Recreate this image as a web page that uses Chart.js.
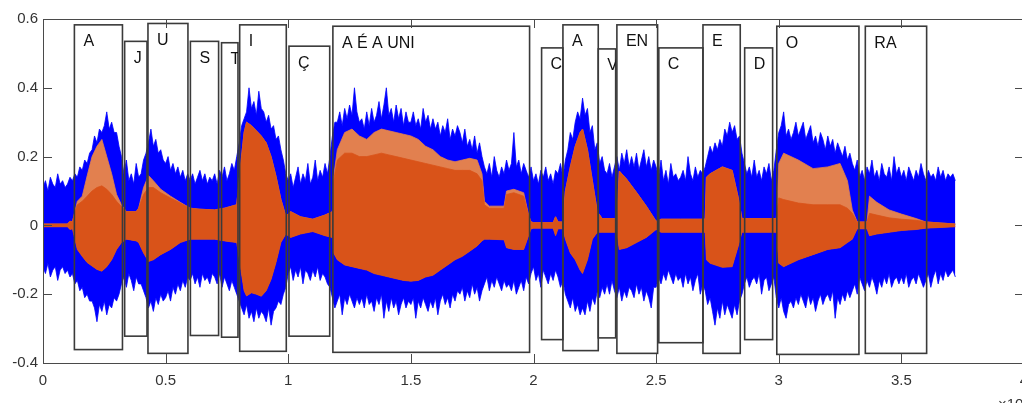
<!DOCTYPE html>
<html>
<head>
<meta charset="utf-8">
<script src="https://cdn.jsdelivr.net/npm/chart.js@4.4.0/dist/chart.umd.min.js"></script>
<style>
  html, body { margin: 0; padding: 0; background: #fff; overflow: hidden; width: 1022px; height: 403px; }
  #wrap { width: 1026px; height: 403px; }
</style>
</head>
<body>
<div id="wrap"><canvas id="c" width="1026" height="403"></canvas></div>
<script>
// Noisy recording: per-column upper / lower envelope, one column every 0.01 (x10^4 samples)
const blueStep = 0.01;
const blueHi = [
  0.11,0.13,0.10,0.14,0.12,0.11,0.15,0.12,0.13,0.11,
  0.12,0.14,0.13,0.15,0.14,0.17,0.16,0.19,0.18,0.21,
  0.22,0.26,0.24,0.28,0.27,0.29,0.33,0.28,0.30,0.27,
  0.27,0.23,0.20,0.15,0.19,0.13,0.15,0.12,0.18,0.14,
  0.15,0.19,0.21,0.24,0.28,0.23,0.25,0.21,0.22,0.19,
  0.18,0.20,0.16,0.18,0.15,0.17,0.14,0.16,0.13,0.15,
  0.13,0.15,0.12,0.14,0.16,0.13,0.15,0.12,0.14,0.13,
  0.15,0.12,0.16,0.14,0.17,0.13,0.15,0.18,0.16,0.20,
  0.24,0.29,0.31,0.33,0.40,0.34,0.36,0.32,0.39,0.34,
  0.33,0.30,0.32,0.28,0.29,0.25,0.26,0.22,0.19,0.15,
  0.13,0.15,0.11,0.14,0.17,0.12,0.15,0.13,0.18,0.12,
  0.14,0.19,0.13,0.16,0.14,0.18,0.15,0.20,0.26,0.30,
  0.30,0.33,0.29,0.34,0.31,0.35,0.32,0.40,0.33,0.30,
  0.31,0.28,0.33,0.29,0.34,0.30,0.32,0.36,0.31,0.35,
  0.40,0.32,0.34,0.30,0.35,0.31,0.34,0.29,0.33,0.30,
  0.30,0.33,0.29,0.31,0.28,0.34,0.30,0.32,0.28,0.31,
  0.28,0.30,0.26,0.29,0.27,0.31,0.25,0.28,0.26,0.29,
  0.27,0.24,0.28,0.23,0.25,0.22,0.26,0.21,0.24,0.20,
  0.17,0.15,0.18,0.14,0.20,0.16,0.14,0.17,0.15,0.19,
  0.16,0.18,0.27,0.17,0.19,0.15,0.18,0.16,0.14,0.17,
  0.13,0.15,0.12,0.16,0.14,0.17,0.13,0.15,0.12,0.16,
  0.15,0.18,0.14,0.19,0.22,0.27,0.25,0.30,0.33,0.31,
  0.37,0.32,0.34,0.27,0.29,0.22,0.24,0.18,0.20,0.16,
  0.15,0.18,0.14,0.17,0.20,0.16,0.21,0.18,0.22,0.17,
  0.20,0.17,0.21,0.16,0.19,0.22,0.17,0.20,0.16,0.19,
  0.17,0.14,0.19,0.13,0.16,0.12,0.18,0.14,0.15,0.13,
  0.14,0.16,0.13,0.20,0.15,0.13,0.17,0.14,0.16,0.15,
  0.17,0.20,0.23,0.21,0.24,0.22,0.25,0.23,0.28,0.26,
  0.30,0.27,0.29,0.25,0.26,0.21,0.18,0.15,0.17,0.14,
  0.19,0.14,0.16,0.13,0.17,0.15,0.18,0.13,0.16,0.22,
  0.27,0.29,0.33,0.26,0.28,0.25,0.27,0.30,0.26,0.28,
  0.30,0.25,0.27,0.29,0.24,0.26,0.23,0.27,0.25,0.22,
  0.26,0.23,0.25,0.21,0.24,0.22,0.20,0.23,0.19,0.21,
  0.18,0.16,0.19,0.14,0.16,0.13,0.17,0.15,0.19,0.14,
  0.16,0.13,0.18,0.15,0.14,0.17,0.13,0.20,0.15,0.17,
  0.14,0.16,0.13,0.17,0.15,0.13,0.16,0.14,0.18,0.15,
  0.13,0.16,0.14,0.15,0.13,0.17,0.14,0.16,0.13,0.15,
  0.14,0.15,0.13
];
const blueLo = [
  -0.12,-0.14,-0.11,-0.15,-0.13,-0.12,-0.16,-0.13,-0.12,-0.14,
  -0.13,-0.15,-0.14,-0.17,-0.16,-0.19,-0.18,-0.21,-0.20,-0.22,
  -0.22,-0.24,-0.28,-0.23,-0.25,-0.22,-0.26,-0.23,-0.24,-0.21,
  -0.22,-0.20,-0.17,-0.15,-0.18,-0.14,-0.16,-0.19,-0.15,-0.17,
  -0.17,-0.19,-0.21,-0.24,-0.22,-0.25,-0.21,-0.23,-0.20,-0.22,
  -0.21,-0.19,-0.22,-0.18,-0.20,-0.17,-0.19,-0.16,-0.18,-0.15,
  -0.16,-0.14,-0.17,-0.15,-0.18,-0.14,-0.16,-0.15,-0.17,-0.14,
  -0.15,-0.17,-0.14,-0.18,-0.15,-0.17,-0.19,-0.16,-0.18,-0.20,
  -0.22,-0.24,-0.26,-0.23,-0.27,-0.25,-0.28,-0.24,-0.27,-0.25,
  -0.26,-0.28,-0.24,-0.29,-0.25,-0.24,-0.22,-0.23,-0.20,-0.18,
  -0.14,-0.12,-0.16,-0.13,-0.15,-0.12,-0.17,-0.13,-0.14,-0.16,
  -0.13,-0.15,-0.12,-0.16,-0.14,-0.15,-0.17,-0.18,-0.21,-0.24,
  -0.22,-0.20,-0.26,-0.21,-0.23,-0.20,-0.22,-0.24,-0.21,-0.23,
  -0.21,-0.24,-0.20,-0.23,-0.22,-0.25,-0.21,-0.23,-0.20,-0.27,
  -0.22,-0.25,-0.21,-0.24,-0.22,-0.26,-0.23,-0.21,-0.24,-0.22,
  -0.23,-0.21,-0.27,-0.22,-0.24,-0.21,-0.23,-0.25,-0.22,-0.24,
  -0.21,-0.26,-0.22,-0.20,-0.23,-0.21,-0.24,-0.20,-0.22,-0.19,
  -0.20,-0.18,-0.22,-0.19,-0.21,-0.17,-0.20,-0.18,-0.22,-0.19,
  -0.17,-0.15,-0.19,-0.16,-0.18,-0.15,-0.17,-0.19,-0.16,-0.18,
  -0.17,-0.19,-0.16,-0.20,-0.18,-0.16,-0.19,-0.15,-0.17,-0.14,
  -0.12,-0.16,-0.14,-0.18,-0.13,-0.15,-0.17,-0.14,-0.16,-0.13,
  -0.15,-0.18,-0.16,-0.20,-0.22,-0.24,-0.21,-0.25,-0.23,-0.26,
  -0.24,-0.26,-0.22,-0.25,-0.21,-0.23,-0.19,-0.21,-0.18,-0.20,
  -0.17,-0.20,-0.16,-0.19,-0.21,-0.18,-0.22,-0.19,-0.21,-0.18,
  -0.19,-0.21,-0.17,-0.20,-0.18,-0.22,-0.19,-0.21,-0.24,-0.18,
  -0.18,-0.15,-0.17,-0.14,-0.16,-0.13,-0.15,-0.17,-0.14,-0.16,
  -0.15,-0.18,-0.14,-0.17,-0.15,-0.19,-0.16,-0.14,-0.20,-0.17,
  -0.19,-0.23,-0.21,-0.25,-0.29,-0.24,-0.27,-0.22,-0.26,-0.23,
  -0.25,-0.27,-0.23,-0.26,-0.22,-0.20,-0.17,-0.15,-0.18,-0.16,
  -0.15,-0.17,-0.14,-0.20,-0.16,-0.15,-0.19,-0.17,-0.15,-0.21,
  -0.24,-0.21,-0.25,-0.27,-0.23,-0.22,-0.24,-0.21,-0.23,-0.20,
  -0.22,-0.24,-0.20,-0.23,-0.21,-0.25,-0.22,-0.20,-0.23,-0.21,
  -0.20,-0.22,-0.19,-0.27,-0.21,-0.23,-0.20,-0.22,-0.19,-0.21,
  -0.19,-0.17,-0.20,-0.15,-0.17,-0.19,-0.16,-0.18,-0.15,-0.17,
  -0.20,-0.16,-0.18,-0.15,-0.17,-0.14,-0.18,-0.16,-0.15,-0.17,
  -0.15,-0.17,-0.14,-0.18,-0.16,-0.15,-0.17,-0.14,-0.16,-0.18,
  -0.16,-0.14,-0.18,-0.15,-0.13,-0.17,-0.14,-0.16,-0.13,-0.15,
  -0.14,-0.13,-0.15
];

// Clean speech: envelope breakpoints (x10^4 samples)
const orangeX = [
  0.00,0.10,0.11,0.12,0.13,0.14,0.16,0.18,0.20,0.22,0.24,0.26,0.28,0.30,0.32,0.34,0.38,0.39,0.41,0.43,
  0.45,0.48,0.52,0.56,0.60,0.64,0.70,0.74,0.79,0.805,0.82,0.83,0.85,0.87,0.89,0.91,0.93,0.95,0.97,0.99,
  1.01,1.05,1.10,1.15,1.18,1.185,1.20,1.23,1.26,1.29,1.32,1.35,1.38,1.41,1.44,1.47,1.50,1.53,1.56,1.59,
  1.62,1.65,1.68,1.71,1.74,1.77,1.79,1.80,1.82,1.88,1.89,1.92,1.96,1.98,1.99,2.00,2.08,2.09,2.10,2.12,
  2.13,2.15,2.17,2.19,2.20,2.22,2.24,2.26,2.28,2.34,2.35,2.38,2.42,2.46,2.50,2.52,2.60,2.70,2.705,2.72,
  2.77,2.81,2.835,2.85,2.99,3.00,3.02,3.08,3.14,3.20,3.25,3.28,3.30,3.32,3.36,3.37,3.40,3.45,3.50,3.56,
  3.60,3.72
];
// outer (peak) envelope, upper side
const orangeHi = [
  0.004,0.004,0.012,0.010,0.040,0.070,0.085,0.144,0.200,0.230,0.250,0.200,0.150,0.090,0.060,0.040,0.040,0.050,0.110,0.145,
  0.130,0.105,0.085,0.067,0.050,0.047,0.045,0.050,0.060,0.170,0.270,0.300,0.290,0.275,0.260,0.240,0.200,0.143,0.076,0.027,
  0.040,0.025,0.018,0.030,0.040,0.140,0.220,0.270,0.280,0.260,0.250,0.270,0.280,0.275,0.270,0.265,0.260,0.250,0.230,0.220,
  0.200,0.190,0.185,0.190,0.195,0.190,0.150,0.070,0.056,0.056,0.100,0.105,0.095,0.030,0.010,0.008,0.008,0.025,0.010,0.010,
  0.100,0.170,0.230,0.270,0.280,0.220,0.130,0.040,0.020,0.020,0.158,0.134,0.096,0.056,0.012,0.018,0.018,0.018,0.140,0.150,
  0.170,0.160,0.080,0.020,0.020,0.180,0.210,0.190,0.165,0.170,0.180,0.130,0.045,0.010,0.010,0.085,0.067,0.045,0.033,0.020,
  0.010,0.004
];
// dense (body) envelope, upper side
const orangeCoreHi = [
  0.004,0.004,0.012,0.010,0.040,0.060,0.070,0.085,0.100,0.110,0.115,0.105,0.090,0.070,0.055,0.040,0.040,0.050,0.090,0.110,
  0.110,0.095,0.080,0.065,0.050,0.047,0.045,0.050,0.060,0.170,0.270,0.300,0.290,0.275,0.260,0.240,0.200,0.143,0.076,0.027,
  0.040,0.025,0.018,0.030,0.040,0.130,0.190,0.210,0.210,0.200,0.200,0.205,0.210,0.205,0.200,0.195,0.190,0.185,0.180,0.175,
  0.170,0.165,0.160,0.160,0.160,0.150,0.130,0.060,0.050,0.050,0.090,0.095,0.085,0.030,0.010,0.008,0.008,0.025,0.010,0.010,
  0.100,0.170,0.230,0.270,0.280,0.220,0.130,0.040,0.020,0.020,0.158,0.134,0.096,0.056,0.012,0.018,0.018,0.018,0.140,0.150,
  0.170,0.160,0.080,0.020,0.020,0.080,0.075,0.065,0.060,0.060,0.060,0.050,0.035,0.010,0.010,0.035,0.030,0.022,0.018,0.015,
  0.010,0.004
];
const orangeLo = [
  -0.004,-0.004,-0.012,-0.010,-0.040,-0.070,-0.090,-0.108,-0.118,-0.128,-0.133,-0.120,-0.100,-0.070,-0.050,-0.040,-0.045,-0.050,-0.080,-0.105,
  -0.100,-0.085,-0.070,-0.050,-0.040,-0.040,-0.040,-0.045,-0.050,-0.120,-0.190,-0.205,-0.196,-0.200,-0.206,-0.190,-0.157,-0.108,-0.050,-0.025,
  -0.035,-0.025,-0.018,-0.030,-0.035,-0.080,-0.100,-0.115,-0.120,-0.125,-0.130,-0.140,-0.145,-0.150,-0.155,-0.160,-0.162,-0.160,-0.150,-0.145,
  -0.130,-0.115,-0.100,-0.090,-0.075,-0.060,-0.045,-0.040,-0.040,-0.042,-0.065,-0.070,-0.070,-0.030,-0.010,-0.008,-0.008,-0.030,-0.010,-0.010,
  -0.040,-0.080,-0.100,-0.130,-0.140,-0.100,-0.040,-0.020,-0.020,-0.020,-0.070,-0.065,-0.050,-0.035,-0.012,-0.020,-0.020,-0.020,-0.100,-0.110,
  -0.122,-0.120,-0.060,-0.020,-0.020,-0.110,-0.120,-0.100,-0.085,-0.070,-0.065,-0.050,-0.040,-0.010,-0.010,-0.030,-0.025,-0.020,-0.015,-0.012,
  -0.008,-0.004
];

// Segment boxes and their transcriptions
const segText   = ['A','J','U','S','T','I','Ç','A É A UNI','C','A','V','EN','C','E','D','O','RA'];
const segLeft   = [0.128,0.333,0.428,0.601,0.728,0.802,1.003,1.182,2.033,2.120,2.264,2.340,2.511,2.691,2.861,2.992,3.353];
const segRight  = [0.324,0.424,0.591,0.716,0.795,0.992,1.169,1.984,2.120,2.264,2.335,2.506,2.691,2.843,2.975,3.327,3.603];
const segTop    = [0.583,0.535,0.587,0.535,0.531,0.583,0.521,0.579,0.516,0.583,0.513,0.583,0.516,0.583,0.516,0.579,0.579];
const segBottom = [-0.361,-0.322,-0.372,-0.320,-0.325,-0.366,-0.322,-0.369,-0.332,-0.364,-0.327,-0.372,-0.341,-0.372,-0.332,-0.375,-0.372];

// Axis ticks
const xTicks = [0,0.5,1,1.5,2,2.5,3,3.5,4];
const xTickLabels = ['0','0.5','1','1.5','2','2.5','3','3.5','4'];
const yTicks = [-0.4,-0.2,0,0.2,0.4,0.6];
const yTickLabels = ['-0.4','-0.2','0','0.2','0.4','0.6'];

const FONT = '"Liberation Sans", Arial, Helvetica, sans-serif';
const BLUE = '#0000ff';
const ORANGE = '#d95319';
const ORANGE_PALE = '#e2804f';

const toPoints = (xs, ys) => ys.map((v, i) => ({ x: xs[i], y: v }));
const blueX = blueHi.map((_, i) => Math.round(i * blueStep * 100) / 100);

const lineBase = { pointRadius: 0, pointHoverRadius: 0, tension: 0, borderWidth: 0.8 };

// Boxes, labels, axes frame with inward ticks, exponent note
const overlay = {
  id: 'overlay',
  afterDatasetsDraw(chart) {
    const { ctx, chartArea: a, scales: { x, y } } = chart;
    ctx.save();
    ctx.lineWidth = 1.6;
    ctx.strokeStyle = '#3a3a3a';
    for (let i = 0; i < segText.length; i++) {
      const l = x.getPixelForValue(segLeft[i]);
      const r = x.getPixelForValue(segRight[i]);
      const t = y.getPixelForValue(segTop[i]);
      const b = y.getPixelForValue(segBottom[i]);
      ctx.strokeRect(l, t, r - l, b - t);
    }
    ctx.font = '16px ' + FONT;
    ctx.fillStyle = '#111';
    ctx.textBaseline = 'middle';
    ctx.textAlign = 'left';
    for (let i = 0; i < segText.length; i++) {
      const l = x.getPixelForValue(segLeft[i]);
      const r = x.getPixelForValue(segRight[i]);
      const t = y.getPixelForValue(segTop[i]);
      const b = y.getPixelForValue(segBottom[i]);
      ctx.save();
      ctx.beginPath();
      ctx.rect(l, t, r - l, b - t);
      ctx.clip();
      ctx.fillText(segText[i], l + 9, t + 17);
      ctx.restore();
    }
    // frame
    ctx.lineWidth = 1;
    ctx.strokeStyle = '#4a4a4a';
    ctx.strokeRect(Math.round(a.left) + 0.5, Math.round(a.top) + 0.5,
                   Math.round(a.right - a.left), Math.round(a.bottom - a.top));
    // inward ticks on all four sides
    const tl = 9;
    ctx.beginPath();
    xTicks.forEach(v => {
      const px = Math.round(x.getPixelForValue(v)) + 0.5;
      ctx.moveTo(px, a.bottom); ctx.lineTo(px, a.bottom - tl);
      ctx.moveTo(px, a.top); ctx.lineTo(px, a.top + tl);
    });
    yTicks.forEach(v => {
      const py = Math.round(y.getPixelForValue(v)) + 0.5;
      ctx.moveTo(a.left, py); ctx.lineTo(a.left + tl, py);
      ctx.moveTo(a.right, py); ctx.lineTo(a.right - tl, py);
    });
    ctx.stroke();
    // x10^4 multiplier under the right end of the x axis
    ctx.fillStyle = '#333';
    ctx.textBaseline = 'top';
    ctx.textAlign = 'left';
    ctx.font = '15px ' + FONT;
    ctx.fillText('×10', 998, 397);
    const w = ctx.measureText('×10').width;
    ctx.font = '11px ' + FONT;
    ctx.fillText('4', 998 + w + 1, 392);
    ctx.restore();
  }
};

new Chart(document.getElementById('c'), {
  type: 'line',
  data: {
    datasets: [
      { ...lineBase, data: toPoints(orangeX, orangeCoreHi), borderColor: ORANGE, backgroundColor: ORANGE, fill: '+1' },
      { ...lineBase, data: toPoints(orangeX, orangeLo), borderColor: ORANGE, fill: false },
      { ...lineBase, data: toPoints(orangeX, orangeHi), borderColor: ORANGE_PALE, backgroundColor: ORANGE_PALE, fill: 1 },
      { ...lineBase, data: toPoints(blueX, blueHi), borderColor: BLUE, backgroundColor: BLUE, fill: '+1' },
      { ...lineBase, data: toPoints(blueX, blueLo), borderColor: BLUE, fill: false }
    ]
  },
  options: {
    responsive: false,
    animation: false,
    devicePixelRatio: 1,
    layout: { padding: { top: 19, right: 2, left: 0, bottom: 0 } },
    plugins: { legend: { display: false }, tooltip: { enabled: false } },
    events: [],
    scales: {
      x: {
        type: 'linear', min: 0, max: 4,
        grid: { display: false, drawTicks: false },
        border: { display: false },
        afterFit(s) { s.height = 40; s.paddingLeft = 0; s.paddingRight = 0; },
        afterBuildTicks(s) { s.ticks = xTicks.map(v => ({ value: v })); },
        ticks: {
          padding: 9, color: '#333', maxRotation: 0, autoSkip: false,
          font: { family: FONT, size: 15 },
          callback: (v, i) => xTickLabels[i]
        }
      },
      y: {
        type: 'linear', min: -0.4, max: 0.6,
        grid: { display: false, drawTicks: false },
        border: { display: false },
        afterFit(s) { s.width = 43; s.paddingTop = 0; s.paddingBottom = 0; },
        afterBuildTicks(s) { s.ticks = yTicks.map(v => ({ value: v })); },
        ticks: {
          padding: 5, color: '#333', autoSkip: false,
          font: { family: FONT, size: 15 },
          callback: (v, i) => yTickLabels[i]
        }
      }
    }
  },
  plugins: [overlay]
});
</script>
</body>
</html>
